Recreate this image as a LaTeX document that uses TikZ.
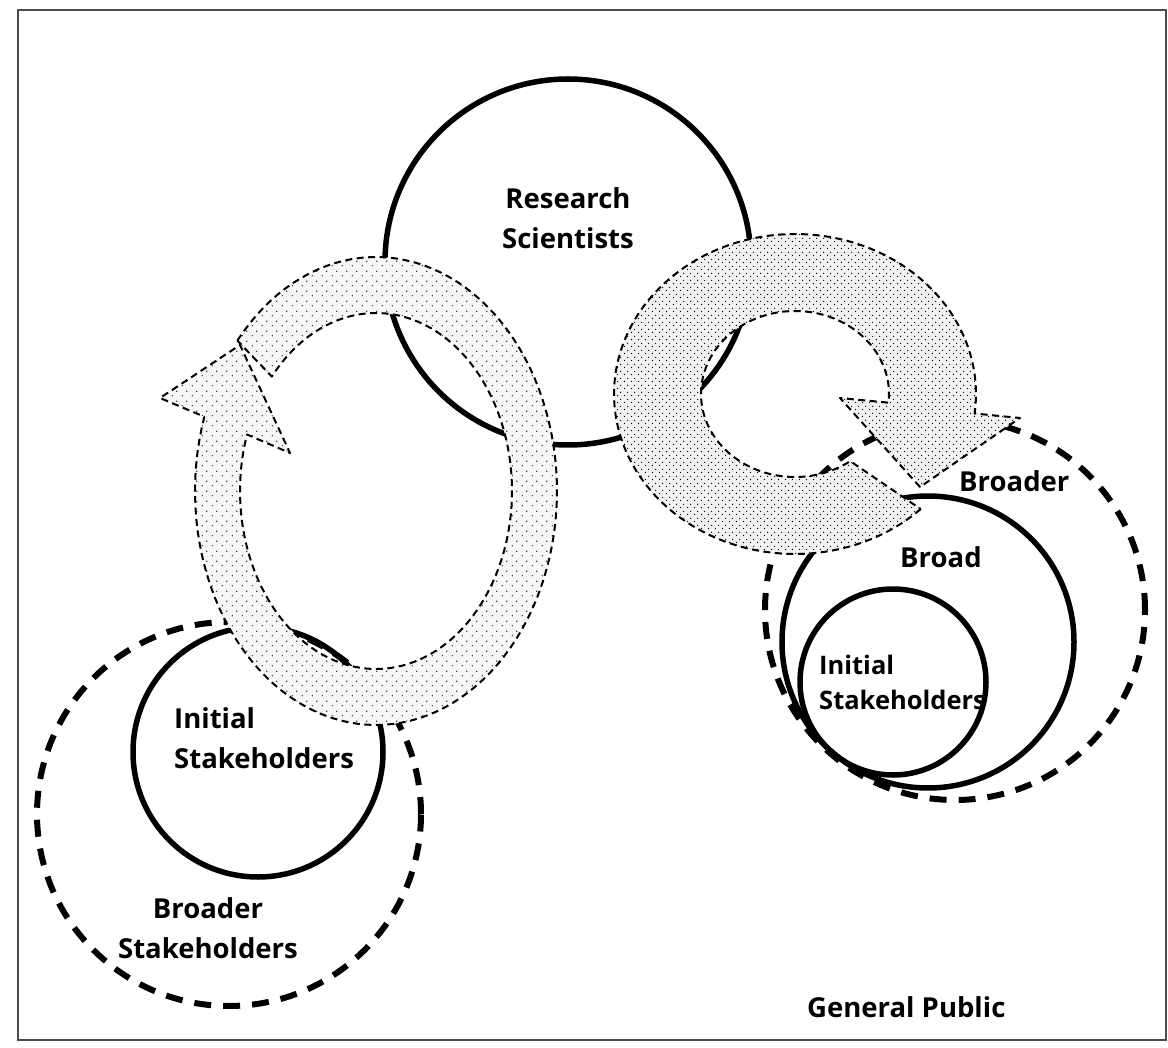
\documentclass[tikz,border=0pt]{standalone}
\usepackage{fontspec}
\newfontfamily\lblfont{Open Sans}
\usetikzlibrary{patterns.meta}
\tikzdeclarepattern{name=stipA, type=colored,
  bottom left={(0pt,0pt)}, top right={(10pt,10pt)}, tile size={(10pt,10pt)},
  code={\fill[black] (2.5pt,2.5pt) circle[radius=0.75pt];
        \fill[black] (7.5pt,7.5pt) circle[radius=0.75pt];}}
\tikzdeclarepattern{name=stipB, type=colored,
  bottom left={(0pt,0pt)}, top right={(7pt,7pt)}, tile size={(7pt,7pt)},
  code={\fill[black] (1.75pt,1.75pt) circle[radius=0.8pt];
        \fill[black] (5.25pt,5.25pt) circle[radius=0.8pt];}}
\tikzset{
  solidc/.style={draw, circle, inner sep=0pt, line width=5.5pt},
  dashc/.style={draw, circle, inner sep=0pt, line width=6pt, dash pattern=on 17pt off 12pt},
  ringedge/.style={draw=black, line width=2pt, dash pattern=on 7pt off 4.5pt, line join=round},
  lbl/.style={inner sep=0pt, font=\lblfont\bfseries\fontsize{27.5}{40}\selectfont},
  lblsmall/.style={inner sep=0pt, font=\lblfont\bfseries\fontsize{25.5}{35}\selectfont},
}
\begin{document}
\begin{tikzpicture}[x=1pt,y=-1pt]
\useasboundingbox (0,0) rectangle (1168,1048);
\fill[white] (0,0) rectangle (1168,1048);
\draw[black!70, line width=1.5pt] (18,10) rectangle (1166,1040);

% circles
\node[solidc, minimum size=366pt] (rs) at (568,262) {};
\node[dashc, minimum size=384pt] (lbroader) at (229,814) {};
\node[solidc, minimum size=250pt] (linit) at (258,752) {};
\node[dashc, minimum size=380pt] (rbroader) at (955,610) {};
\node[solidc, minimum size=292pt] (rbroad) at (928,642) {};
\node[solidc, minimum size=186pt] (rinit) at (893,682) {};

% left ring arrow
\path[fill=black!3, postaction={pattern=stipA}, postaction={ringedge}]
  plot[domain=220:558.5, samples=120, variable=\t] ({376+181*cos(\t)}, {491+234*sin(\t)})
  -- (160,398) -- (240,345) -- (290,453)
  -- plot[domain=558.5:220, samples=120, variable=\t] ({376+136*cos(\t)}, {491+178*sin(\t)})
  -- cycle;

% right ring arrow
\path[fill=black!5, postaction={pattern=stipB}, postaction={ringedge}]
  plot[domain=46:367, samples=120, variable=\t] ({795+181*cos(\t)}, {394+160*sin(\t)})
  -- (1020,418) -- (920,487) -- (840,398)
  -- plot[domain=366:54, samples=120, variable=\t] ({795+94*cos(\t)}, {394+83*sin(\t)})
  -- cycle;

% labels
\node[lbl, anchor=north, align=center] (rslabel) at (568,187) {Research\\Scientists};
\node[lbl, anchor=north west, align=left] (linitlabel) at (174,707) {Initial\\Stakeholders};
\node[lbl, anchor=north, align=center] (lbroaderlabel) at (208,897) {Broader\\Stakeholders};
\node[lbl, anchor=base west] (rbroaderlabel) at (959,492) {Broader};
\node[lbl, anchor=base west] (rbroadlabel) at (900,567) {Broad};
\node[lblsmall, anchor=north west, align=left] (rinitlabel) at (819,655) {Initial\\Stakeholders};
\node[lbl, anchor=base west] (publabel) at (807,1017) {General Public};
\end{tikzpicture}
\end{document}
